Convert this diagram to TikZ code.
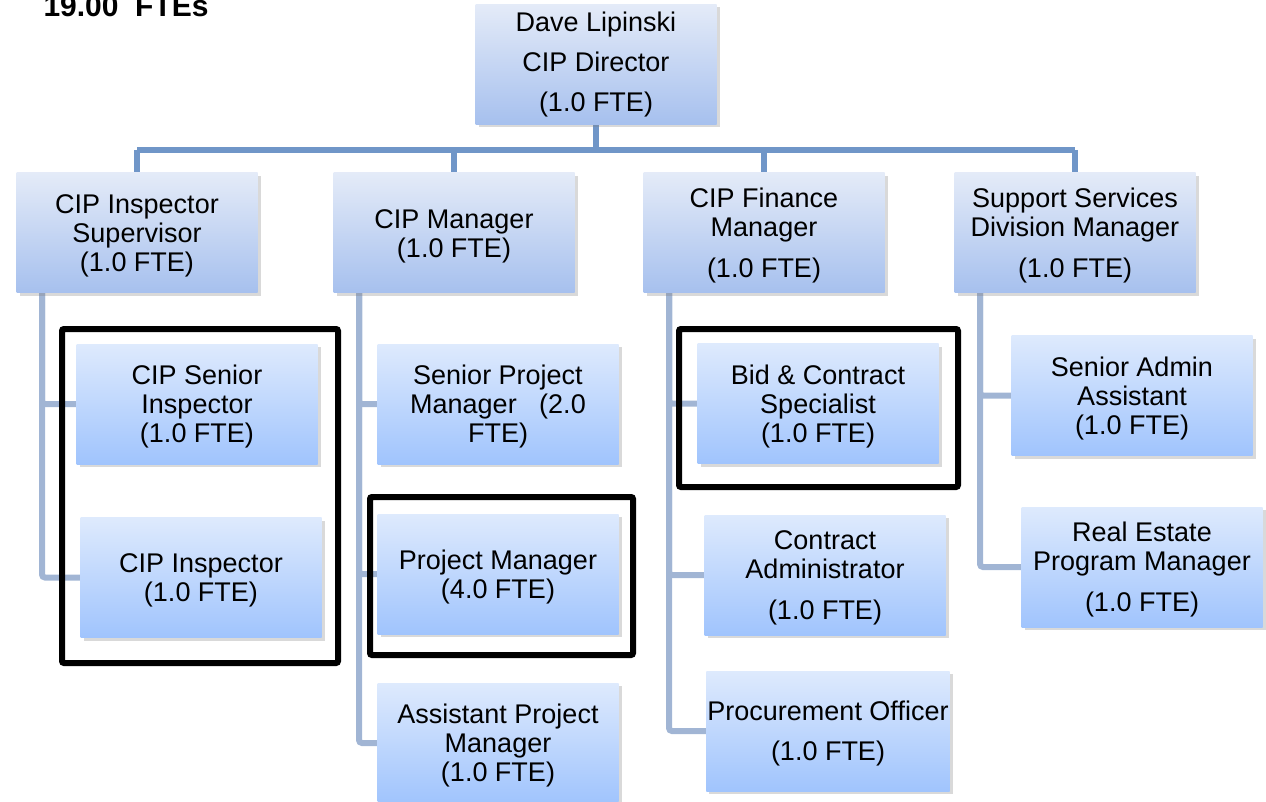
\documentclass[tikz,border=0pt]{standalone}
\usepackage{fontspec}
\setmainfont{Liberation Sans}
\usepackage{tikz}
\usetikzlibrary{positioning,shadows,backgrounds}

\definecolor{busblue}{RGB}{112,150,200}
\definecolor{linkblue}{RGB}{161,181,212}
\definecolor{posttop}{RGB}{228,235,248}
\definecolor{postbot}{RGB}{166,192,238}
\definecolor{unittop}{RGB}{222,234,253}
\definecolor{unitbot}{RGB}{160,196,253}

% taller first line, pushes the text block a little down
\newcommand{\firstline}{\rule{0pt}{25.5pt}}

\tikzset{
  post/.style={rectangle, align=center, minimum width=241pt, minimum height=120pt, inner sep=1pt,
    top color=posttop, bottom color=postbot,
    drop shadow={shadow xshift=3pt, shadow yshift=-3pt, opacity=0.3},
    font=\fontsize{27}{29}\selectfont},
  unit/.style={post, top color=unittop, bottom color=unitbot},
  bus/.style={line width=6pt, draw=busblue},
  link/.style={line width=6pt, draw=linkblue, rounded corners=3pt},
  frame/.style={line width=6pt, draw=black, rounded corners=2pt},
}

\begin{document}
\begin{tikzpicture}[x=1pt, y=-1pt]
			\useasboundingbox (0,0) rectangle (1266,802);

			\node[anchor=base west, font=\fontsize{30}{34}\selectfont\bfseries] (total) at (40,17) {19.00\ \ FTEs};

			\node[post] (dir) at (596,64.5) {Dave Lipinski\\[11pt] CIP Director\\[11pt] (1.0 FTE)};

			\node[post] (insup) at (137,233) {\firstline CIP Inspector\\ Supervisor\\ (1.0 FTE)};
			\node[post, right of=insup, node distance=317pt] (cipm) {\firstline CIP Manager\\ (1.0 FTE)};
			\node[post, right of=cipm, node distance=310pt] (finm) {\firstline CIP Finance\\ Manager\\[12pt] (1.0 FTE)};
			\node[post, right of=finm, node distance=311pt] (ssdm) {\firstline Support Services\\ Division Manager\\[12pt] (1.0 FTE)};

			\node[unit, below of=insup, node distance=171pt, xshift=60pt] (srinsp) {\firstline CIP Senior\\ Inspector\\ (1.0 FTE)};
			\node[unit, below of=srinsp, node distance=173.5pt, xshift=4pt] (insp) {\firstline CIP Inspector\\ (1.0 FTE)};

			\node[unit, below of=cipm, node distance=171pt, xshift=44pt] (srpm) {\firstline Senior Project\\ Manager\ \ \ (2.0\\ FTE)};
			\node[unit, below of=srpm, node distance=170pt] (pm) {\firstline Project Manager\\ (4.0 FTE)};
			\node[unit, below of=pm, node distance=169pt] (apm) {\firstline Assistant Project\\ Manager\\ (1.0 FTE)};

			\node[unit, below of=finm, node distance=170.5pt, xshift=54pt] (bid) {\firstline Bid \& Contract\\ Specialist\\ (1.0 FTE)};
			\node[unit, below of=bid, node distance=171.5pt, xshift=7pt] (cadm) {\firstline Contract\\ Administrator\\[12pt] (1.0 FTE)};
			\node[unit, below of=cadm, node distance=156pt, xshift=3pt] (proc) {\firstline Procurement Officer\\[11pt] (1.0 FTE)};

			\node[unit, below of=ssdm, node distance=162.5pt, xshift=57pt] (sadm) {\firstline Senior Admin\\ Assistant\\ (1.0 FTE)};
			\node[unit, below of=sadm, node distance=171.5pt, xshift=10pt] (rest) {\firstline Real Estate\\ Program Manager\\[12pt] (1.0 FTE)};

			\begin{scope}[on background layer]
				\coordinate (bus) at (596,150);
				\draw[bus] (dir) -- (bus);
				\draw[bus] (insup.north |- bus) -- (ssdm.north |- bus);
				\foreach \boss in {insup,cipm,finm,ssdm}
					\draw[bus] (\boss.north |- bus) -- (\boss.north);
				\foreach \boss/\kids in {insup/{srinsp,insp},cipm/{srpm,pm,apm},finm/{bid,cadm,proc},ssdm/{sadm,rest}}
					\foreach \kid in \kids
						\draw[link] ([xshift=-95pt]\boss.south) |- (\kid.west);
			\end{scope}

			\draw[frame] (62,329) rectangle (338,663);
			\draw[frame] (370,497) rectangle (633,655);
			\draw[frame] (679,329) rectangle (958,487);
		\end{tikzpicture}
\end{document}
